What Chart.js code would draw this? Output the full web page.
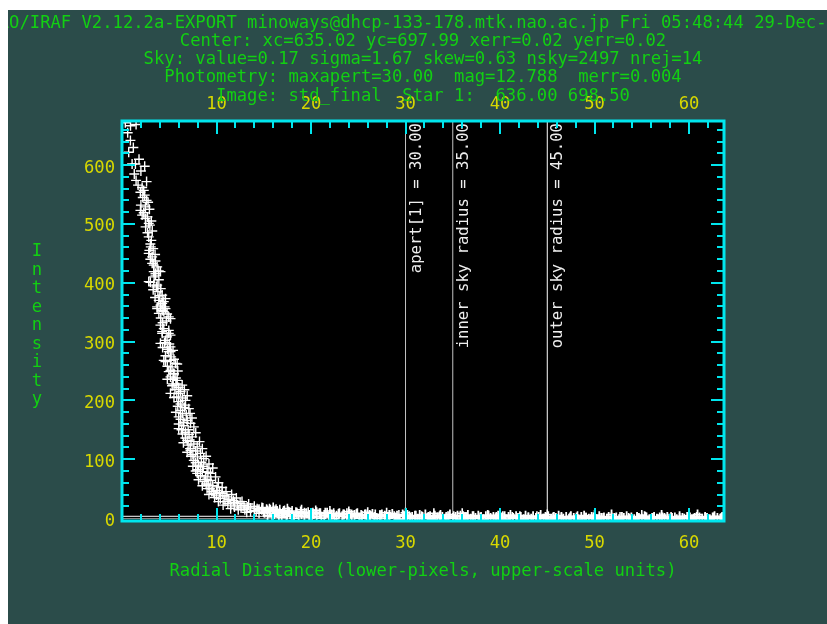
<!DOCTYPE html>
<html>
<head>
<meta charset="utf-8">
<script src="https://cdn.jsdelivr.net/npm/chart.js@4/dist/chart.umd.min.js"></script>
<style>
  html, body { margin: 0; padding: 0; background: #ffffff; }
  #wrap { position: absolute; left: 8px; top: 10px; width: 819px; height: 614px; }
  canvas { display: block; }
</style>
</head>
<body>
<div id="wrap"><canvas id="prof" width="819" height="614"></canvas></div>
<script>
// ---- header text ----
const headerLines = [
  'NOAO/IRAF V2.12.2a-EXPORT minoways@dhcp-133-178.mtk.nao.ac.jp Fri 05:48:44 29-Dec-2006',
  'Center: xc=635.02 yc=697.99 xerr=0.02 yerr=0.02',
  'Sky: value=0.17 sigma=1.67 skew=0.63 nsky=2497 nrej=14',
  'Photometry: maxapert=30.00  mag=12.788  merr=0.004',
  'Image: std_final  Star 1:  636.00 698.50'
];
const xTitle = 'Radial Distance (lower-pixels, upper-scale units)';
const yTitle = 'Intensity';

// ---- axis limits and labelled ticks ----
const radiusRange = [0, 63.7];
const intensityRange = [-5, 675];
const xTickLabels = [10, 20, 30, 40, 50, 60];
const yTickLabels = [0, 100, 200, 300, 400, 500, 600];

// ---- photometry apertures ----
const apertureRadii = [30, 35, 45];
const apertureNames = ['apert[1]', 'inner sky radius', 'outer sky radius'];

// ---- horizontal reference levels ----
const baseLevels = [3, -1];

// ---- radial profile: [radius, intensity] ----
const coreProfile = [
  [0.35,672],[0.9,667],[1.49,669],[0.89,642],[0.71,622],[1.07,602],[1.42,602],[2.4,598],
  [1.49,574],[2.13,562],[2.3,557],[1.95,554],[2.4,549],[2.76,537],[2.48,529],[1.95,523],
  [2.13,515],[2.48,509],[2.83,501],[2.95,498],[2.83,478],[3.1,472],[3.0,466],[3.05,461],
  [2.83,450],[3.19,444],[3.54,437],[3.19,433],[3.36,430],[3.72,427],[3.89,420],[3.36,419],
  [4.07,419],[3.54,413],[3.54,416],[2.83,402],[3.0,401],[3.36,396],[3.72,396],[3.64,393],
  [4.25,379],[3.89,370],[4.42,368],[4.25,365],[4.07,362],[3.72,359],[4.5,359],[3.72,356],
  [4.25,353],[4.42,351],[4.77,347],[4.95,342],[5.13,339],[4.07,328],[4.42,322],[4.95,319],
  [4.25,317],[4.25,314],[4.95,314],[5.13,311],[4.77,308],[4.6,302],[4.07,297],[5.13,291],
  [4.95,283],[5.13,283],[4.42,268],[5.13,268],[4.6,266],[5.66,263],[5.84,262],[5.3,257],
  [5.13,251],[4.95,249],[5.48,246],[5.13,240],[5.84,234],[6.37,226],[5.13,212],[6.0,212],
  [6.72,200],[6.0,198],[7.07,186],[6.19,183],[6.0,172],[6.54,163],[7.25,161],[6.0,152],
  [6.72,146],[7.43,138],[6.9,132],[7.96,121],[7.25,115],[8.3,110],[7.6,98],[8.65,101],
  [8.3,87],[9.0,84],[7.96,76],[8.83,70],[9.36,76],[9.18,56],[10.07,53],[9.71,42],
  [10.6,42],[11.1,36],[11.8,30],[11.5,22],[12.5,25],[13.25,19],[14.3,16],[15.4,13],[16.4,10],
  [5.5,245],[5.7,238],[5.4,228],[6.0,222],[5.6,218],[6.2,215],[5.8,206],[6.4,204],
  [6.2,194],[5.9,190],[6.6,188],[6.4,178],[6.8,175],[6.2,168],[6.9,166],[6.5,157],
  [7.0,150],[6.4,143],[7.1,142],[6.7,136],[7.3,130],[7.0,124],[7.6,126],[7.2,118],
  [7.8,114],[7.5,108],[8.0,104],[7.8,94],[8.4,95],[8.1,90],[8.6,88],[8.0,82],
  [8.5,79],[9.1,78],[8.3,72],[9.0,66],[8.7,62],[9.4,64],[8.9,58],[9.6,55],
  [9.3,50],[10.0,47],[9.5,45],[10.3,44],[10.0,39],[10.8,38],[10.4,33],[11.3,32],
  [10.9,28],[11.9,27],[11.2,25],[12.2,22],[12.9,21],[11.9,19],[12.6,17],[13.6,17],
  [13.0,14],[14.0,13],[14.8,14],[13.6,11],[15.0,10],[16.0,12],[14.5,8],[17.0,9],[17.5,6],
  [1.2,630],[0.6,655],[1.8,610],[1.3,585],[2.0,590],[1.7,566],[2.6,572],
  [2.2,545],[2.6,540],[2.0,532],[2.9,525],[2.3,519],[2.7,512],[3.1,505],[2.5,495],
  [3.2,488],[2.7,485],[3.3,458],[2.9,455],[3.5,448],[3.0,440],
  [3.4,410],[3.9,405],[3.3,388],[3.8,385],[4.1,390],[3.5,375],[4.0,378],[4.6,373],
  [3.9,348],[4.6,356],[4.1,340],[4.7,335],[4.3,332],
  [4.5,298],[5.0,296],[4.3,290],[4.8,287],[5.4,285],[4.6,276],[5.2,274],[4.8,258],
  [5.5,270],[5.9,250],[5.4,236],[4.8,236],
  [5.3,225],[5.8,228],[6.6,218],[5.5,205],[6.9,208],[6.7,192],[5.7,180],[7.2,178],
  [6.0,160],[7.4,170],[7.6,155],[6.3,150],[7.8,145],[6.5,128],
  [8.2,130],[6.9,112],[8.5,118],[7.3,105],[8.9,105],[7.5,88],[9.2,92],[7.8,80],
  [9.6,85],[8.1,65],[9.9,70],[8.5,55],[10.2,60],[9.0,50],[10.6,52],[9.2,40],
  [11.0,45],[9.8,35],[11.6,40],[10.2,28],[12.1,34],[10.7,22],[12.7,28],[11.5,16],
  [13.4,24],[12.3,14],[14.0,20],[13.2,10],[14.8,18],[14.2,12],[15.6,16],[16.3,15],[17.2,13]
];
const skyProfile = [
  [15.1,9],[15.4,4],[15.6,11],[15.9,2],[16.1,7],[16.4,12],[16.6,5],[16.9,1],[17.2,8],[17.4,3],
  [17.7,10],[17.9,6],[18.2,0],[18.5,9],[18.7,4],[19.0,7],[19.3,2],[19.5,8],[19.8,5],[20.1,1],
  [20.3,7],[20.6,3],[20.9,8],[21.1,0],[21.4,5],[21.7,9],[21.9,2],[22.2,6],[22.5,-1],[22.7,4],
  [23.0,8],[23.3,3],[23.5,6],[23.8,1],[24.1,7],[24.3,2],[24.6,5],[24.9,8],[25.1,0],[25.4,4],
  [25.7,6],[25.9,1],[26.2,5],[26.5,7],[26.7,2],[27.0,-1],[27.3,4],[27.5,6],[27.8,3],[28.1,0],
  [28.3,5],[28.6,7],[28.9,1],[29.1,4],[29.4,-2],[29.7,6],[29.9,3],[30.2,5],[30.5,0],[30.7,2],
  [31.0,4],[31.3,-1],[31.5,5],[31.8,2],[32.1,6],[32.3,0],[32.6,3],[32.9,-2],[33.1,4],[33.4,1],
  [33.7,5],[33.9,2],[34.2,-1],[34.5,3],[34.7,6],[35.0,0],[35.3,2],[35.5,4],[35.8,-2],[36.1,3],
  [36.3,2],[36.6,5],[36.9,-1],[37.1,3],[37.4,0],[37.7,4],[37.9,1],[38.2,-2],[38.5,3],[38.7,5],
  [39.0,0],[39.3,2],[39.5,-1],[39.8,4],[40.1,1],[40.3,3],[40.6,-2],[40.9,2],[41.1,5],[41.4,0],
  [41.7,3],[41.9,0],[42.2,2],[42.5,-2],[42.7,4],[43.0,1],[43.3,-1],[43.5,3],[43.8,0],[44.1,2],
  [44.3,5],[44.6,-1],[44.9,1],[45.1,3],[45.4,-2],[45.7,2],[45.9,0],[46.2,4],[46.5,1],[46.7,-1],
  [47.0,2],[47.3,-1],[47.5,3],[47.8,0],[48.1,1],[48.3,-2],[48.6,2],[48.9,4],[49.1,0],[49.4,-1],
  [49.7,2],[49.9,1],[50.2,-2],[50.5,3],[50.7,0],[51.0,1],[51.3,-1],[51.5,2],[51.8,6],[52.1,0],
  [52.3,1],[52.6,-2],[52.9,2],[53.1,0],[53.4,3],[53.7,-1],[53.9,1],[54.2,-2],[54.5,2],[54.7,0],
  [55.0,-1],[55.3,3],[55.5,1],[55.8,-2],[56.1,0],[56.3,2],[56.6,-1],[56.9,1],[57.1,5],[57.4,0],
  [57.7,2],[57.9,-1],[58.2,0],[58.5,1],[58.7,-2],[59.0,3],[59.3,0],[59.5,-1],[59.8,2],[60.1,1],
  [60.3,-2],[60.6,0],[60.9,6],[61.1,1],[61.4,-1],[61.7,2],[61.9,0],[62.2,-2],[62.5,1],[62.7,3],
  [63.0,0],[63.3,-1],[63.5,2]
];
// upper edge of the sky band
const skyUpper = [
  [14.5,15],[14.9,17],[15.3,15],[15.7,14],[16.2,13],[16.7,14],[17.1,12],[17.6,11],[18.0,12],[18.4,10],
  [18.9,11],[19.3,9],[19.7,10],[20.2,9],[20.6,10],[21.0,8],[21.5,9],[22.0,7],[22.4,8],[22.9,7],
  [23.4,6],[23.8,8],[24.3,6],[24.8,7],[25.3,5],[25.8,6],[26.3,4],[26.8,6],[27.3,5],[27.8,4],
  [28.3,5],[28.8,3],[29.3,5],[29.8,4],[30.4,3],[31.1,4],[31.7,3],[32.4,2],[33.0,4],[33.6,3],
  [34.3,2],[35.1,3],[35.8,4],[36.5,2],[37.2,3],[38.0,2],[38.8,4],[39.6,2],[40.5,3],[41.3,2],
  [42.1,3],[43.0,1],[43.9,3],[44.8,2],[45.6,1],[46.5,2],[47.4,1],[48.2,3],[49.1,1],[50.0,2],
  [50.9,0],[51.8,1],[52.7,2],[53.6,0],[54.5,1],[55.4,2],[56.3,0],[57.2,1],[58.1,2],[59.0,0],
  [59.9,1],[60.8,2],[61.7,0],[62.6,1],[63.4,0],
  [16.0,18],[17.5,16],[19.0,14],[20.5,13],[22.0,12],[24.0,11],[26.0,10],[28.0,9],[30.0,9],
  [33.0,8],[36.0,8],[40.0,7],[45.0,6],[50.0,5],[55.0,5],[60.0,4]
];

// ---- colours and fonts ----
const PANEL = '#2b4c4a';
const CYAN = '#00e6ee';
const YELLOW = '#d8d800';
const GREEN = '#12d012';
const MONO = '"DejaVu Sans Mono", "Liberation Mono", monospace';
const FONT_PX = 17.2;

const toPoints = rows => rows.map(([r, v]) => ({ x: r, y: v }));

const markerLineDatasets = apertureRadii.map((r, i) => ({
  type: 'scatter',
  showLine: true,
  data: [{ x: r, y: intensityRange[0] }, { x: r, y: intensityRange[1] }],
  borderColor: i === 2 ? '#ffffff' : '#c4c4c4',
  borderWidth: 1,
  pointRadius: 0,
  order: 2
}));

const baseLineDatasets = baseLevels.map((lvl, i) => ({
  type: 'scatter',
  showLine: true,
  data: [{ x: radiusRange[0], y: lvl }, { x: radiusRange[1], y: lvl }],
  borderColor: i === 0 ? '#ffffff' : '#9a9a9a',
  borderWidth: 1,
  pointRadius: 0,
  order: 2
}));

const crossStyle = {
  pointStyle: 'cross',
  pointRadius: 5,
  pointBorderColor: '#ffffff',
  borderColor: '#ffffff',
  order: 0
};

// Background panel, frame with inward ticks, aperture captions and header text
const decorations = {
  id: 'decorations',
  beforeDraw(chart) {
    const { ctx, width, height, chartArea: a } = chart;
    ctx.save();
    ctx.fillStyle = PANEL;
    ctx.fillRect(0, 0, width, height);
    ctx.fillStyle = '#000000';
    ctx.fillRect(a.left, a.top, a.right - a.left, a.bottom - a.top);
    ctx.restore();
  },
  afterDatasetsDraw(chart) {
    const { ctx, chartArea: a, scales: { x, y } } = chart;
    ctx.save();

    // aperture captions, reading upward from the top of the plot
    ctx.font = '15.6px ' + MONO;
    ctx.fillStyle = '#eeeeee';
    ctx.textAlign = 'right';
    ctx.textBaseline = 'middle';
    apertureRadii.forEach((r, i) => {
      const px = x.getPixelForValue(r);
      ctx.save();
      ctx.translate(px + 11, a.top + 2);
      ctx.rotate(-Math.PI / 2);
      ctx.fillText(apertureNames[i] + ' = ' + r.toFixed(2), 0, 0);
      ctx.restore();
    });

    // tick marks pointing into the plot
    ctx.strokeStyle = CYAN;
    ctx.lineWidth = 2;
    const seg = (x1, y1, x2, y2) => { ctx.beginPath(); ctx.moveTo(x1, y1); ctx.lineTo(x2, y2); ctx.stroke(); };
    for (let v = 2; v < x.max; v += 2) {
      const px = Math.round(x.getPixelForValue(v));
      const len = v % 10 === 0 ? 13 : 7;
      seg(px, a.top, px, a.top + len);
      seg(px, a.bottom, px, a.bottom - len);
    }
    for (let v = 20; v < y.max; v += 20) {
      const py = Math.round(y.getPixelForValue(v));
      const len = v % 100 === 0 ? 13 : 7;
      seg(a.left, py, a.left + len, py);
      seg(a.right, py, a.right - len, py);
    }
    ctx.lineWidth = 3;
    ctx.strokeRect(a.left, a.top, a.right - a.left, a.bottom - a.top);
    ctx.restore();
  },
  afterDraw(chart) {
    const { ctx, chartArea: a } = chart;
    ctx.save();
    ctx.font = FONT_PX + 'px ' + MONO;
    ctx.fillStyle = GREEN;
    ctx.textAlign = 'center';
    ctx.textBaseline = 'middle';
    const cx = (a.left + a.right) / 2;
    headerLines.forEach((t, i) => ctx.fillText(t, cx, 13.5 + i * 18.15));
    // stacked vertical axis caption
    [...yTitle].forEach((ch, i) => ctx.fillText(ch, 29, 241.7 + i * 18.5));
    ctx.restore();
  }
};

const tickFont = { family: MONO, size: FONT_PX };

new Chart(document.getElementById('prof'), {
  type: 'scatter',
  data: {
    datasets: [
      { label: 'profile', data: toPoints(coreProfile), borderWidth: 1.4, ...crossStyle },
      { label: 'sky', data: toPoints(skyProfile), borderWidth: 1.8, ...crossStyle },
      { label: 'sky upper', data: toPoints(skyUpper), borderWidth: 1.6, ...crossStyle },
      ...markerLineDatasets,
      ...baseLineDatasets
    ]
  },
  options: {
    responsive: false,
    animation: false,
    devicePixelRatio: 1,
    layout: { padding: { left: 0, top: 0, right: 103, bottom: 0 } },
    elements: { point: { hoverRadius: 5 } },
    plugins: { legend: { display: false }, tooltip: { enabled: false }, title: { display: false } },
    datasets: { scatter: { clip: 0 } },
    scales: {
      x: {
        type: 'linear', position: 'bottom',
        min: radiusRange[0], max: radiusRange[1],
        grid: { display: false, drawTicks: false }, border: { display: false },
        ticks: {
          stepSize: 10, includeBounds: false, maxRotation: 0, autoSkip: false,
          color: YELLOW, font: tickFont, padding: 12,
          callback: v => xTickLabels.includes(v) ? String(v) : ''
        },
        title: { display: true, text: xTitle, color: GREEN, font: tickFont, padding: { top: 0, bottom: 41.7 } },
        afterFit: s => { s.height = 103; }
      },
      xTop: {
        type: 'linear', position: 'top',
        min: radiusRange[0], max: radiusRange[1],
        grid: { display: false, drawTicks: false }, border: { display: false },
        ticks: {
          stepSize: 10, includeBounds: false, maxRotation: 0, autoSkip: false,
          color: YELLOW, font: tickFont, padding: 6.5,
          callback: v => xTickLabels.includes(v) ? String(v) : ''
        },
        afterFit: s => { s.height = 111; }
      },
      y: {
        type: 'linear', position: 'left',
        min: intensityRange[0], max: intensityRange[1],
        grid: { display: false, drawTicks: false }, border: { display: false },
        ticks: {
          stepSize: 100, includeBounds: false, autoSkip: false,
          color: YELLOW, font: tickFont, padding: 7, labelOffset: 3,
          callback: v => yTickLabels.includes(v) ? String(v) : ''
        },
        afterFit: s => { s.width = 114; }
      }
    }
  },
  plugins: [decorations]
});
</script>
</body>
</html>
